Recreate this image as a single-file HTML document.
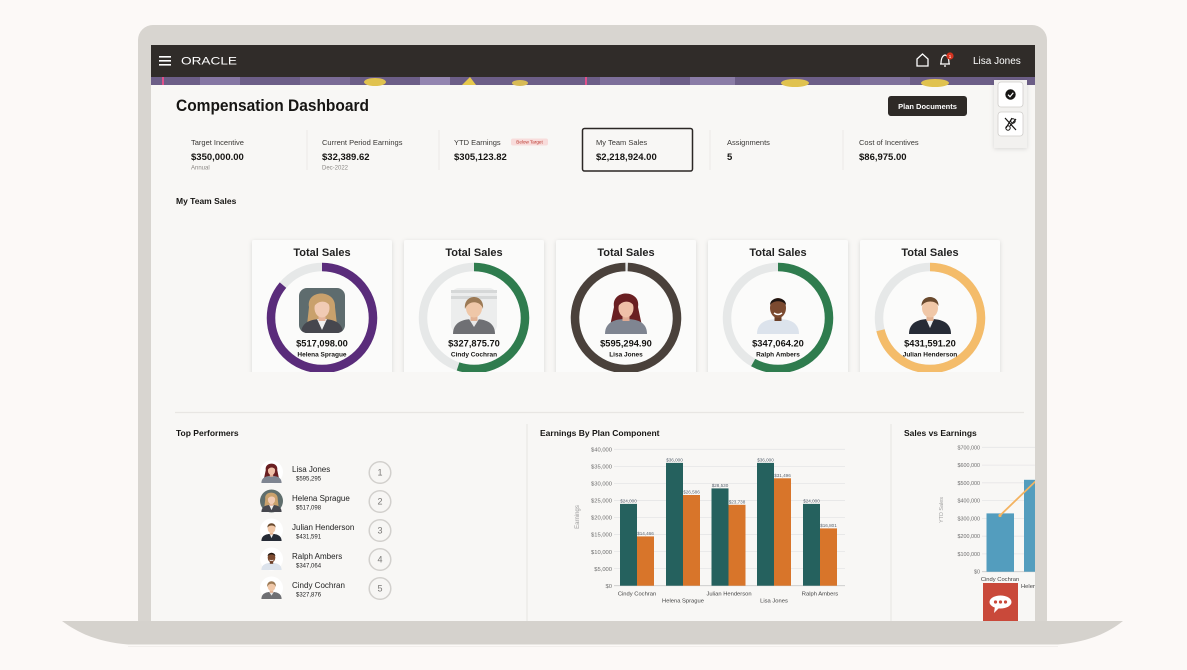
<!DOCTYPE html>
<html><head><meta charset="utf-8"><style>
html,body{margin:0;padding:0;background:#fcf9f7;}
svg{display:block;font-family:"Liberation Sans",Arial,sans-serif;}
</style></head><body>
<svg width="1187" height="670" viewBox="0 0 1187 670">
<defs>
  <filter id="sh" x="-20%" y="-20%" width="140%" height="140%">
    <feDropShadow dx="0" dy="1" stdDeviation="2" flood-color="#000" flood-opacity="0.13"/>
  </filter>
  <clipPath id="scr"><rect x="151" y="45" width="884" height="576"/></clipPath>
  <clipPath id="cardclip"><rect x="0" y="0" width="1187" height="372"/></clipPath>
  <clipPath id="ph1"><rect x="299" y="288" width="46" height="45" rx="8"/></clipPath>
  <!-- people -->
  <g id="p1">
    <path d="M-13,-4 C-16,-22 14,-22 13,-4 L15,14 L-15,14 Z" fill="#c9a16c"/>
    <path d="M-21,23 C-21,11 -11,8 0,8 C11,8 21,11 21,23 Z" fill="#46474e"/>
    <path d="M-5,8 L0,19 L5,8 Z" fill="#f0f0f0"/>
    <rect x="-3.5" y="3" width="7" height="7" fill="#e6b59c"/>
    <ellipse cx="0" cy="-3" rx="7.5" ry="9.5" fill="#f1cbb4"/>
    <path d="M-9,-3 C-11,-17 10,-17 9,-3 C6,-11 -4,-12 -9,-3Z" fill="#c9a16c"/>
  </g>
  <g id="p2">
    <path d="M-21,23 C-21,11 -11,8 0,8 C11,8 21,11 21,23 Z" fill="#6f7074"/>
    <path d="M-5,8 L0,16 L5,8 Z" fill="#e8e8e8"/>
    <rect x="-3.5" y="3" width="7" height="7" fill="#e2b294"/>
    <ellipse cx="0" cy="-3" rx="8" ry="9.5" fill="#efc7a8"/>
    <path d="M-9,-2 C-11,-18 11,-18 9,-2 C7,-10 -5,-12 -9,-2Z" fill="#9c7a55"/>
  </g>
  <g id="p3">
    <path d="M-12,-4 C-15,-22 15,-22 12,-4 L16,15 L-16,15 Z" fill="#6a1f22"/>
    <path d="M-21,23 C-21,11 -11,8 0,8 C11,8 21,11 21,23 Z" fill="#7f8591"/>
    <rect x="-3.5" y="3" width="7" height="7" fill="#e0ab94"/>
    <ellipse cx="0" cy="-3" rx="7.5" ry="9.5" fill="#efc0a8"/>
    <path d="M-9,-3 C-10,-17 10,-17 9,-3 C6,-11 -4,-12 -9,-3Z" fill="#6a1f22"/>
  </g>
  <g id="p4">
    <path d="M-21,23 C-21,11 -11,8 0,8 C11,8 21,11 21,23 Z" fill="#dce3ec"/>
    <rect x="-3.5" y="3" width="7" height="7" fill="#6b3f28"/>
    <ellipse cx="0" cy="-3" rx="8" ry="10" fill="#7b4a30"/>
    <path d="M-8,-6 C-8,-15 8,-15 8,-6 C5,-11 -5,-11 -8,-6Z" fill="#1e1410"/>
    <path d="M-4,2 Q0,5 4,2" stroke="#fff" stroke-width="1.5" fill="none"/>
  </g>
  <g id="p5">
    <path d="M-21,23 C-21,11 -11,8 0,8 C11,8 21,11 21,23 Z" fill="#262b36"/>
    <path d="M-4,8 L0,17 L4,8 Z" fill="#eef0f2"/>
    <rect x="-3.5" y="3" width="7" height="7" fill="#e3b393"/>
    <ellipse cx="0" cy="-3" rx="8" ry="9.5" fill="#f0c7a7"/>
    <path d="M-8.5,-5 C-9,-17 9,-17 8.5,-5 C6,-11 -5,-11 -8.5,-5Z" fill="#6a4a2e"/>
  </g>
</defs>

<!-- page background -->
<rect x="0" y="0" width="1187" height="670" fill="#fcf9f7"/>
<!-- bezel -->
<rect x="138" y="25" width="909" height="610" rx="15" fill="#d8d5d0"/>
<!-- screen -->
<rect x="151" y="45" width="884" height="577" fill="#f8f7f5"/>

<g clip-path="url(#scr)">
  <!-- header -->
  <rect x="151" y="45" width="884" height="32" fill="#302c29"/>
  <rect x="159" y="56" width="12" height="1.6" fill="#fff"/>
  <rect x="159" y="60" width="12" height="1.6" fill="#fff"/>
  <rect x="159" y="64" width="12" height="1.6" fill="#fff"/>
  <text x="181" y="64.5" font-size="11" fill="#fff" textLength="56" lengthAdjust="spacingAndGlyphs">ORACLE</text>
  <path d="M917,66 V59 L922.5,54 L928,59 V66 Z" fill="none" stroke="#fff" stroke-width="1.3"/>
  <path d="M941,64 Q941,56 945,55 Q949,56 949,64 Z M940,64 H950 M944,66 H946" fill="none" stroke="#fff" stroke-width="1.2"/>
  <circle cx="950" cy="56" r="3.6" fill="#d4331f"/>
  <text x="950" y="58" font-size="4.5" fill="#fff" text-anchor="middle">1</text>
  <text x="973" y="64" font-size="10" fill="#fff">Lisa Jones</text>

  <!-- banner strip -->
  <rect x="151" y="77" width="884" height="8" fill="#6c5e87"/>
  <rect x="200" y="77" width="40" height="8" fill="#8576a3"/>
  <rect x="300" y="77" width="50" height="8" fill="#7a6b96"/>
  <rect x="420" y="77" width="30" height="8" fill="#9385b0"/>
  <rect x="600" y="77" width="60" height="8" fill="#7d6f9a"/>
  <rect x="690" y="77" width="45" height="8" fill="#8a7ca6"/>
  <rect x="860" y="77" width="50" height="8" fill="#7f719b"/>
  <ellipse cx="375" cy="82" rx="11" ry="4" fill="#e0c24f"/>
  <path d="M462,85 L470,77 L476,85 Z" fill="#e6c84c"/>
  <ellipse cx="520" cy="83" rx="8" ry="3" fill="#d8bb55"/>
  <ellipse cx="795" cy="83" rx="14" ry="4" fill="#e0c24f"/>
  <ellipse cx="935" cy="83" rx="14" ry="4" fill="#e0c24f"/>
  <rect x="162" y="77" width="2" height="8" fill="#e0508a"/>
  <rect x="585" y="77" width="2" height="8" fill="#e0508a"/>

  <!-- title -->
  <text x="176" y="111" font-size="17" font-weight="bold" fill="#161513" textLength="193" lengthAdjust="spacingAndGlyphs">Compensation Dashboard</text>
  <rect x="888" y="96" width="79" height="20" rx="3" fill="#2e2a27"/>
  <text x="927.5" y="109" font-size="7.5" font-weight="bold" fill="#fff" text-anchor="middle">Plan Documents</text>

  <!-- right toolbar -->
  <rect x="994" y="80" width="33" height="68" fill="#f2f1ef" filter="url(#sh)"/>
  <rect x="998" y="82" width="25" height="25" rx="3" fill="#fff" stroke="#cfcdca" stroke-width="0.8"/>
  <circle cx="1010.5" cy="94.5" r="5.2" fill="#161513"/>
  <path d="M1008,94.7 L1010,96.7 L1013.3,92.7" stroke="#fff" stroke-width="1.2" fill="none"/>
  <rect x="998" y="112" width="25" height="24" rx="3" fill="#fff" stroke="#cfcdca" stroke-width="0.8"/>
  <path d="M1005,118 L1016,130 M1012,118 L1006,128 M1016,119 L1010,126" stroke="#161513" stroke-width="1.2" fill="none"/>
  <circle cx="1013" cy="121" r="2.2" fill="none" stroke="#161513" stroke-width="1"/>
  <circle cx="1008" cy="128" r="2.2" fill="none" stroke="#161513" stroke-width="1"/>

  <!-- KPIs -->
  <g fill="#3a3836" font-size="7.5">
    <text x="191" y="145">Target Incentive</text>
    <text x="322" y="145">Current Period Earnings</text>
    <text x="454" y="145">YTD Earnings</text>
    <text x="596" y="145">My Team Sales</text>
    <text x="727" y="145">Assignments</text>
    <text x="859" y="145">Cost of Incentives</text>
  </g>
  <g fill="#161513" font-size="9.5" font-weight="bold">
    <text x="191" y="160">$350,000.00</text>
    <text x="322" y="160">$32,389.62</text>
    <text x="454" y="160">$305,123.82</text>
    <text x="596" y="160">$2,218,924.00</text>
    <text x="727" y="160">5</text>
    <text x="859" y="160">$86,975.00</text>
  </g>
  <g fill="#8a8784" font-size="6">
    <text x="191" y="169.5">Annual</text>
    <text x="322" y="169.5">Dec-2022</text>
  </g>
  <rect x="511" y="138.5" width="37" height="7" rx="2" fill="#f8dcdb"/>
  <text x="529.5" y="143.6" font-size="4.6" fill="#b8342a" text-anchor="middle">Below Target</text>
  <rect x="582.5" y="128.5" width="110" height="42.5" rx="2" fill="none" stroke="#2b2725" stroke-width="1.5"/>
  <g stroke="#ebe9e6" stroke-width="1">
    <line x1="307" y1="130" x2="307" y2="170"/>
    <line x1="439" y1="130" x2="439" y2="170"/>
    <line x1="710" y1="130" x2="710" y2="170"/>
    <line x1="843" y1="130" x2="843" y2="170"/>
  </g>

  <text x="176" y="204" font-size="8.5" font-weight="bold" fill="#161513">My Team Sales</text>

  <!-- cards -->
  <g clip-path="url(#cardclip)">
    <g filter="url(#sh)" fill="#fbfbfa">
      <rect x="252" y="240" width="140" height="150" rx="2"/>
      <rect x="404" y="240" width="140" height="150" rx="2"/>
      <rect x="556" y="240" width="140" height="150" rx="2"/>
      <rect x="708" y="240" width="140" height="150" rx="2"/>
      <rect x="860" y="240" width="140" height="150" rx="2"/>
    </g>
    <g font-size="11" font-weight="bold" fill="#222" text-anchor="middle">
      <text x="322" y="256">Total Sales</text>
      <text x="474" y="256">Total Sales</text>
      <text x="626" y="256">Total Sales</text>
      <text x="778" y="256">Total Sales</text>
      <text x="930" y="256">Total Sales</text>
    </g>
    <g fill="none" stroke-width="8.5">
      <circle cx="322" cy="318" r="51" stroke="#e6e8e8"/>
      <circle cx="474" cy="318" r="51" stroke="#e6e8e8"/>
      <circle cx="626" cy="318" r="51" stroke="#e6e8e8"/>
      <circle cx="778" cy="318" r="51" stroke="#e6e8e8"/>
      <circle cx="930" cy="318" r="51" stroke="#e6e8e8"/>
      <circle cx="322" cy="318" r="51" stroke="#5a2c7b" stroke-dasharray="275.6 400" transform="rotate(-90 322 318)"/>
      <circle cx="474" cy="318" r="51" stroke="#2f7c4e" stroke-dasharray="176.2 400" transform="rotate(-90 474 318)"/>
      <circle cx="626" cy="318" r="51" stroke="#4a413b" stroke-dasharray="317.5 400" transform="rotate(-88 626 318)"/>
      <circle cx="778" cy="318" r="51" stroke="#2f7c4e" stroke-dasharray="185.9 400" transform="rotate(-90 778 318)"/>
      <circle cx="930" cy="318" r="51" stroke="#f4bc6a" stroke-dasharray="227.5 400" transform="rotate(-90 930 318)"/>
    </g>
    <!-- photos -->
    <rect x="299" y="288" width="46" height="45" rx="8" fill="#5e6c6e"/>
    <g clip-path="url(#ph1)"><use href="#p1" transform="translate(322,311)"/></g>
    <rect x="451" y="288" width="46" height="45" rx="8" fill="#eceded"/>
    <rect x="451" y="290" width="46" height="3" fill="#d6d8d8"/>
    <rect x="451" y="296" width="46" height="3" fill="#d6d8d8"/>
    <use href="#p2" transform="translate(474,311)"/>
    <use href="#p3" transform="translate(626,311)"/>
    <use href="#p4" transform="translate(778,311)"/>
    <use href="#p5" transform="translate(930,311)"/>
    <g font-size="9.3" font-weight="bold" fill="#161513" text-anchor="middle">
      <text x="322" y="346.5">$517,098.00</text>
      <text x="474" y="346.5">$327,875.70</text>
      <text x="626" y="346.5">$595,294.90</text>
      <text x="778" y="346.5">$347,064.20</text>
      <text x="930" y="346.5">$431,591.20</text>
    </g>
    <g font-size="6.5" font-weight="bold" fill="#161513" text-anchor="middle">
      <text x="322" y="356.5">Helena Sprague</text>
      <text x="474" y="356.5">Cindy Cochran</text>
      <text x="626" y="356.5">Lisa Jones</text>
      <text x="778" y="356.5">Ralph Ambers</text>
      <text x="930" y="356.5">Julian Henderson</text>
    </g>
  </g>

  <!-- separator -->
  <line x1="175" y1="412.5" x2="1024" y2="412.5" stroke="#e8e6e3" stroke-width="1.2"/>
  <line x1="527" y1="424" x2="527" y2="621" stroke="#e6e4e1" stroke-width="1"/>
  <line x1="891" y1="424" x2="891" y2="621" stroke="#e6e4e1" stroke-width="1"/>

  <!-- Top performers -->
  <text x="176" y="436" font-size="8.5" font-weight="bold" fill="#161513">Top Performers</text>
  <circle cx="271.5" cy="472" r="11.5" fill="#fff"/>
  <use href="#p3" transform="translate(271.5,472) scale(0.48)"/>
  <circle cx="271.5" cy="501" r="11.5" fill="#5f6e6c"/>
  <use href="#p1" transform="translate(271.5,501) scale(0.48)"/>
  <circle cx="271.5" cy="530" r="11.5" fill="#fff"/>
  <use href="#p5" transform="translate(271.5,530) scale(0.48)"/>
  <circle cx="271.5" cy="559" r="11.5" fill="#fff"/>
  <use href="#p4" transform="translate(271.5,559) scale(0.48)"/>
  <circle cx="271.5" cy="588" r="11.5" fill="#fff"/>
  <use href="#p2" transform="translate(271.5,588) scale(0.48)"/>
  <g font-size="8" fill="#222">
    <text x="292" y="472">Lisa Jones</text>
    <text x="292" y="501">Helena Sprague</text>
    <text x="292" y="530">Julian Henderson</text>
    <text x="292" y="559">Ralph Ambers</text>
    <text x="292" y="588">Cindy Cochran</text>
  </g>
  <g font-size="6" fill="#222">
    <text x="296" y="480.5">$595,295</text>
    <text x="296" y="509.5">$517,098</text>
    <text x="296" y="538.5">$431,591</text>
    <text x="296" y="567.5">$347,064</text>
    <text x="296" y="596.5">$327,876</text>
  </g>
  <g fill="#f7f6f4" stroke="#d2d0cd" stroke-width="1.5">
    <circle cx="380" cy="472.5" r="10.8"/>
    <circle cx="380" cy="501.5" r="10.8"/>
    <circle cx="380" cy="530.5" r="10.8"/>
    <circle cx="380" cy="559.5" r="10.8"/>
    <circle cx="380" cy="588.5" r="10.8"/>
  </g>
  <g font-size="9" fill="#7a7876" text-anchor="middle">
    <text x="380" y="475.5">1</text>
    <text x="380" y="504.5">2</text>
    <text x="380" y="533.5">3</text>
    <text x="380" y="562.5">4</text>
    <text x="380" y="591.5">5</text>
  </g>

  <!-- Earnings by plan component -->
  <text x="540" y="436" font-size="8.5" font-weight="bold" fill="#161513">Earnings By Plan Component</text>
  <g stroke="#e6e6e6" stroke-width="0.8">
    <line x1="614" y1="449.3" x2="845" y2="449.3"/>
    <line x1="614" y1="466.35" x2="845" y2="466.35"/>
    <line x1="614" y1="483.4" x2="845" y2="483.4"/>
    <line x1="614" y1="500.45" x2="845" y2="500.45"/>
    <line x1="614" y1="517.5" x2="845" y2="517.5"/>
    <line x1="614" y1="534.55" x2="845" y2="534.55"/>
    <line x1="614" y1="551.6" x2="845" y2="551.6"/>
    <line x1="614" y1="568.65" x2="845" y2="568.65"/>
  </g>
  <line x1="614" y1="585.7" x2="845" y2="585.7" stroke="#c8c8c8" stroke-width="0.8"/>
  <g font-size="5.8" fill="#6e6e6e" text-anchor="end">
    <text x="612" y="451.5">$40,000</text>
    <text x="612" y="468.5">$35,000</text>
    <text x="612" y="485.6">$30,000</text>
    <text x="612" y="502.6">$25,000</text>
    <text x="612" y="519.7">$20,000</text>
    <text x="612" y="536.7">$15,000</text>
    <text x="612" y="553.8">$10,000</text>
    <text x="612" y="570.8">$5,000</text>
    <text x="612" y="587.9">$0</text>
  </g>
  <text x="0" y="0" font-size="6" fill="#9a9a9a" text-anchor="middle" transform="translate(579,517) rotate(-90)">Earnings</text>
  <g fill="#25615e">
    <rect x="620" y="503.9" width="17" height="81.8"/>
    <rect x="666" y="462.9" width="17" height="122.8"/>
    <rect x="711.5" y="488.4" width="17" height="97.3"/>
    <rect x="757" y="462.9" width="17" height="122.8"/>
    <rect x="803" y="503.9" width="17" height="81.8"/>
  </g>
  <g fill="#d8752a">
    <rect x="637" y="536.4" width="17" height="49.3"/>
    <rect x="683" y="495.0" width="17" height="90.7"/>
    <rect x="728.5" y="504.8" width="17" height="80.9"/>
    <rect x="774" y="478.3" width="17" height="107.4"/>
    <rect x="820" y="528.4" width="17" height="57.3"/>
  </g>
  <g font-size="4.6" fill="#5a6470" text-anchor="middle">
    <text x="628.5" y="502.5">$24,000</text>
    <text x="645.5" y="535">$14,466</text>
    <text x="674.5" y="461.5">$36,000</text>
    <text x="691.5" y="493.6">$26,586</text>
    <text x="720" y="487">$28,530</text>
    <text x="737" y="503.4">$23,738</text>
    <text x="765.5" y="461.5">$36,000</text>
    <text x="782.5" y="476.9">$31,496</text>
    <text x="811.5" y="502.5">$24,000</text>
    <text x="828.5" y="527">$16,801</text>
  </g>
  <g font-size="5.8" fill="#444" text-anchor="middle">
    <text x="637" y="595.5">Cindy Cochran</text>
    <text x="683" y="602.5">Helena Sprague</text>
    <text x="729" y="595.5">Julian Henderson</text>
    <text x="774" y="602.5">Lisa Jones</text>
    <text x="820" y="595.5">Ralph Ambers</text>
  </g>

  <!-- Sales vs Earnings -->
  <text x="904" y="436" font-size="8.5" font-weight="bold" fill="#161513">Sales vs Earnings</text>
  <g stroke="#e6e6e6" stroke-width="0.8">
    <line x1="982" y1="447.3" x2="1035" y2="447.3"/>
    <line x1="982" y1="465.1" x2="1035" y2="465.1"/>
    <line x1="982" y1="482.8" x2="1035" y2="482.8"/>
    <line x1="982" y1="500.6" x2="1035" y2="500.6"/>
    <line x1="982" y1="518.4" x2="1035" y2="518.4"/>
    <line x1="982" y1="536.2" x2="1035" y2="536.2"/>
    <line x1="982" y1="553.9" x2="1035" y2="553.9"/>
  </g>
  <line x1="982" y1="571.7" x2="1035" y2="571.7" stroke="#c8c8c8" stroke-width="0.8"/>
  <g font-size="5.4" fill="#6e6e6e" text-anchor="end">
    <text x="980" y="449.3">$700,000</text>
    <text x="980" y="467.1">$600,000</text>
    <text x="980" y="484.8">$500,000</text>
    <text x="980" y="502.6">$400,000</text>
    <text x="980" y="520.4">$300,000</text>
    <text x="980" y="538.2">$200,000</text>
    <text x="980" y="555.9">$100,000</text>
    <text x="980" y="573.7">$0</text>
  </g>
  <text x="0" y="0" font-size="5.4" fill="#a0a0a0" text-anchor="middle" transform="translate(943,510) rotate(-90)">YTD Sales</text>
  <rect x="986.5" y="513.4" width="27.5" height="58.3" fill="#539dbe"/>
  <rect x="1024" y="479.8" width="28" height="91.9" fill="#539dbe"/>
  <line x1="1000" y1="515.5" x2="1040" y2="477" stroke="#f3b361" stroke-width="1.8"/>
  <circle cx="1000" cy="515.5" r="1.6" fill="#f3b361"/>
  <text x="1000" y="581" font-size="5.8" fill="#444" text-anchor="middle">Cindy Cochran</text>
  <text x="1021" y="588" font-size="5.8" fill="#444">Helena Sprague</text>

  <!-- chat button -->
  <rect x="983" y="583" width="35" height="40" fill="#c9493a"/>
  <ellipse cx="1000.5" cy="602" rx="11" ry="6.5" fill="#fff"/>
  <path d="M995,606 L994,613 L1000,607 Z" fill="#fff"/>
  <circle cx="995.5" cy="602" r="1.6" fill="#c9493a"/>
  <circle cx="1000.5" cy="602" r="1.6" fill="#c9493a"/>
  <circle cx="1005.5" cy="602" r="1.6" fill="#c9493a"/>
</g>

<!-- laptop base -->
<path d="M62,621 H1123 C1108,633 1088,642 1058,644.5 H128 C98,642 78,633 62,621 Z" fill="#d5d2cd"/>
<line x1="128" y1="646.5" x2="1058" y2="646.5" stroke="#f1eeeb" stroke-width="1"/>
</svg>
</body></html>
